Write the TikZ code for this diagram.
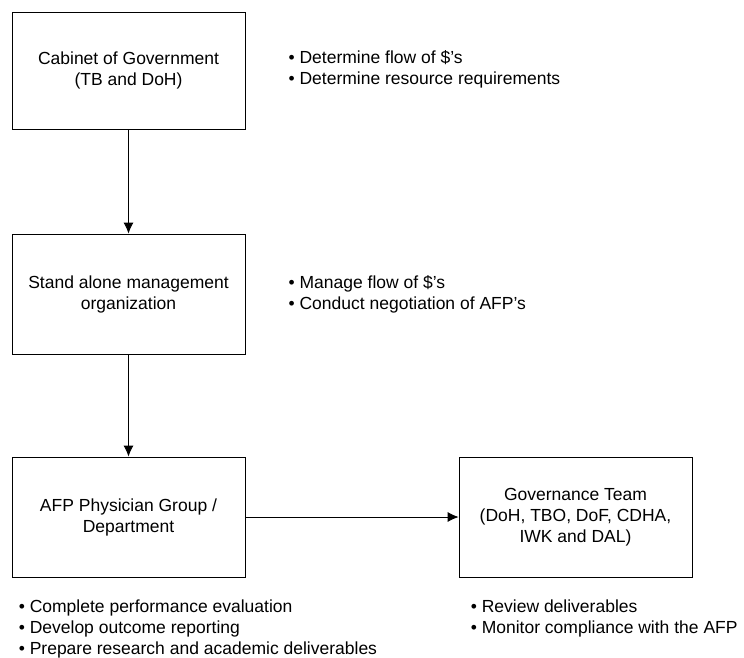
\documentclass[tikz,border=0pt]{standalone}
\usepackage{fontspec}
\setmainfont{Liberation Sans}
\usetikzlibrary{positioning, arrows.meta}
\tikzstyle{block} = [draw, rectangle, line width=0.8pt, minimum height=120pt, minimum width=233pt, align=center, inner sep=0pt]
\tikzstyle{notes} = [align=left, inner sep=0pt]

\begin{document}
\begin{tikzpicture}[auto, node distance=223.5pt, >={Latex[length=11pt,width=10pt]}, font=\fontsize{17.5}{21}\selectfont]
	\useasboundingbox (0,0) rectangle (744pt,-658pt);
	\node [block, minimum height=117pt] (cabinet) at (128.5pt,-70.5pt) {Cabinet of Government\\(TB and DoH)};
	\node [block, below of=cabinet] (management) {Stand alone management\\organization};
	\node [block, below of=management, node distance=223pt] (physicians) {AFP Physician Group /\\Department};
	\node [block, right of=physicians, node distance=447pt] (governance) {Governance Team\\(DoH, TBO, DoF, CDHA,\\IWK and DAL)};

	\draw [->, line width=0.8pt] (cabinet) -- (management);
	\draw [->, line width=0.8pt] (management) -- (physicians);
	\draw [->, line width=0.8pt] (physicians) -- (governance);

	\node [notes, right=43pt of cabinet, yshift=1pt] (cabinetnotes) {• Determine flow of \$'s\\• Determine resource requirements};
	\node [notes, right=43pt of management] (managementnotes) {• Manage flow of \$'s\\• Conduct negotiation of AFP's};
	\node [notes, anchor=north west] (physiciansnotes) at ([shift={(7pt,-22pt)}]physicians.south west) {• Complete performance evaluation\\• Develop outcome reporting\\• Prepare research and academic deliverables};
	\node [notes, anchor=north west] (governancenotes) at ([shift={(12pt,-22pt)}]governance.south west) {• Review deliverables\\• Monitor compliance with the AFP};
\end{tikzpicture}
\end{document}
